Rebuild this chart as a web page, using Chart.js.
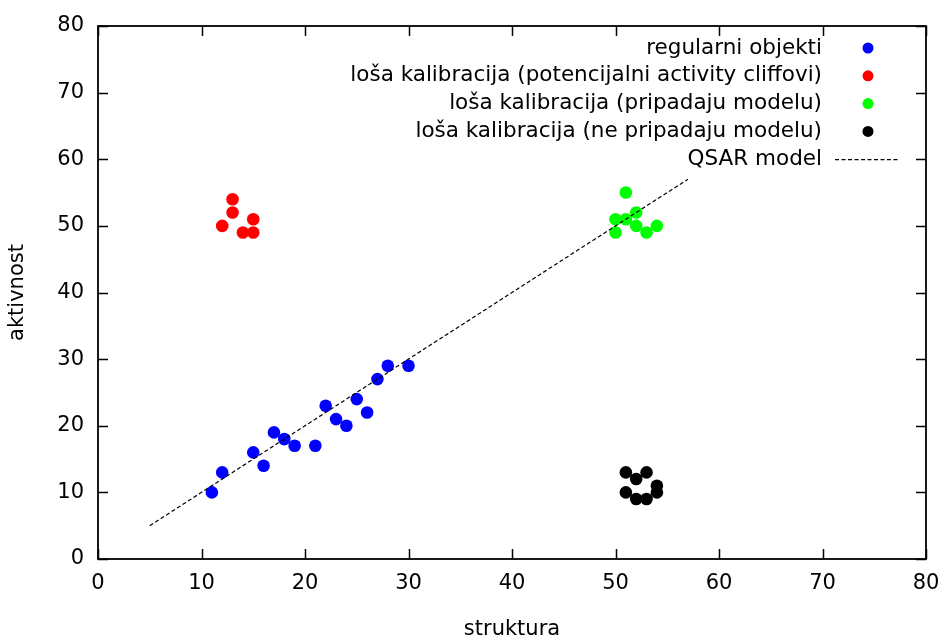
<!DOCTYPE html>
<html>
<head>
<meta charset="utf-8">
<script src="https://cdn.jsdelivr.net/npm/chart.js@4.4.1/dist/chart.umd.min.js"></script>
<style>
  html, body { margin: 0; padding: 0; background: #fff; }
  #wrap { width: 944px; height: 636px; }
</style>
</head>
<body>
<div id="wrap"><canvas id="chart"></canvas></div>
<script>
// regularni objekti
var regularX = [11, 12, 15, 16, 17, 18, 19, 21, 22, 23, 24, 25, 26, 27, 28, 30];
var regularY = [10, 13, 16, 14, 19, 18, 17, 17, 23, 21, 20, 24, 22, 27, 29, 29];

// potencijalni activity cliffovi
var cliffX = [12, 13, 13, 14, 15, 15];
var cliffY = [50, 54, 52, 49, 51, 49];

// pripadaju modelu
var inModelX = [51, 50, 51, 52, 50, 52, 53, 54];
var inModelY = [55, 51, 51, 52, 49, 50, 49, 50];

// ne pripadaju modelu
var outModelX = [51, 52, 53, 51, 52, 53, 54, 54];
var outModelY = [13, 12, 13, 10, 9, 9, 11, 10];

// QSAR model: y = x
var modelX = [5, 57];
var modelY = [5, 57];

var xTicks = [0, 10, 20, 30, 40, 50, 60, 70, 80];
var yTicks = [0, 10, 20, 30, 40, 50, 60, 70, 80];

var FONT = 'DejaVu Sans';

function pts(xs, ys) {
  return xs.map(function (x, i) { return { x: x, y: ys[i] }; });
}

function dots(label, xs, ys, color) {
  return {
    type: 'scatter',
    label: label,
    data: pts(xs, ys),
    backgroundColor: color,
    borderColor: color,
    borderWidth: 0,
    pointRadius: 6.3,
    pointHoverRadius: 6.3
  };
}

// frame with inward ticks on all four sides
var framePlugin = {
  id: 'frame',
  afterDatasetsDraw: function (chart) {
    var c = chart.ctx, a = chart.chartArea;
    var sx = chart.scales.x, sy = chart.scales.y;
    var len = 10;
    c.save();
    c.strokeStyle = '#000';
    c.lineWidth = 1.5;
    c.beginPath();
    xTicks.forEach(function (v) {
      var p = Math.round(sx.getPixelForValue(v)) + 0.5;
      c.moveTo(p, a.bottom); c.lineTo(p, a.bottom - len);
      c.moveTo(p, a.top); c.lineTo(p, a.top + len);
    });
    yTicks.forEach(function (v) {
      var p = Math.round(sy.getPixelForValue(v)) + 0.5;
      c.moveTo(a.left, p); c.lineTo(a.left + len, p);
      c.moveTo(a.right, p); c.lineTo(a.right - len, p);
    });
    c.stroke();
    c.lineWidth = 1.8;
    c.strokeRect(a.left, a.top, a.right - a.left, a.bottom - a.top);
    c.restore();
  }
};

// key in the top right corner: text right-aligned, symbol after it
var keyPlugin = {
  id: 'key',
  afterDatasetsDraw: function (chart) {
    var c = chart.ctx, a = chart.chartArea;
    var textRight = a.right - 104;
    var symX = a.right - 58;
    var y0 = a.top + 22, step = 27.8;
    c.save();
    c.font = '21.5px "' + FONT + '"';
    c.textAlign = 'right';
    c.textBaseline = 'middle';
    chart.data.datasets.forEach(function (ds, i) {
      var y = y0 + i * step;
      c.fillStyle = '#000';
      c.fillText(ds.label, textRight, y);
      if (ds.type === 'line') {
        c.strokeStyle = ds.borderColor;
        c.lineWidth = ds.borderWidth;
        c.setLineDash(ds.borderDash);
        c.beginPath();
        c.moveTo(symX - 33, y + 0.5);
        c.lineTo(symX + 31, y + 0.5);
        c.stroke();
        c.setLineDash([]);
      } else {
        c.fillStyle = ds.backgroundColor;
        c.beginPath();
        c.arc(symX, y, 5.5, 0, Math.PI * 2);
        c.fill();
      }
    });
    c.restore();
  }
};

new Chart(document.getElementById('chart'), {
  data: {
    datasets: [
      dots('regularni objekti', regularX, regularY, '#0000ff'),
      dots('loša kalibracija (potencijalni activity cliffovi)', cliffX, cliffY, '#ff0000'),
      dots('loša kalibracija (pripadaju modelu)', inModelX, inModelY, '#00ff00'),
      dots('loša kalibracija (ne pripadaju modelu)', outModelX, outModelY, '#000000'),
      {
        type: 'line',
        label: 'QSAR model',
        data: pts(modelX, modelY),
        borderColor: '#000',
        borderWidth: 1.2,
        borderDash: [4, 2.5],
        pointRadius: 0,
        fill: false,
        order: -1
      }
    ]
  },
  options: {
    responsive: true,
    maintainAspectRatio: false,
    animation: false,
    layout: { padding: { left: 0, right: 18, top: 26, bottom: 0 } },
    plugins: {
      legend: { display: false },
      tooltip: { enabled: false }
    },
    scales: {
      x: {
        type: 'linear',
        min: 0,
        max: 80,
        afterFit: function (s) { s.height = 77; s.paddingLeft = 0; s.paddingRight = 0; },
        afterBuildTicks: function (s) { s.ticks = xTicks.map(function (v) { return { value: v }; }); },
        grid: { display: false, drawTicks: false },
        border: { display: false },
        ticks: { color: '#000', padding: 12, font: { family: FONT, size: 21 } },
        title: { display: true, text: 'struktura', color: '#000', padding: { top: 0, bottom: -4 }, font: { family: FONT, size: 21, lineHeight: 1 } }
      },
      y: {
        type: 'linear',
        min: 0,
        max: 80,
        afterFit: function (s) { s.width = 98; s.paddingTop = 0; s.paddingBottom = 0; },
        afterBuildTicks: function (s) { s.ticks = yTicks.map(function (v) { return { value: v }; }); },
        grid: { display: false, drawTicks: false },
        border: { display: false },
        ticks: { color: '#000', padding: 14, font: { family: FONT, size: 21 } },
        title: { display: true, text: 'aktivnost', color: '#000', padding: { top: 7, bottom: 0 }, font: { family: FONT, size: 21, lineHeight: 1 } }
      }
    }
  },
  plugins: [framePlugin, keyPlugin]
});
</script>
</body>
</html>
